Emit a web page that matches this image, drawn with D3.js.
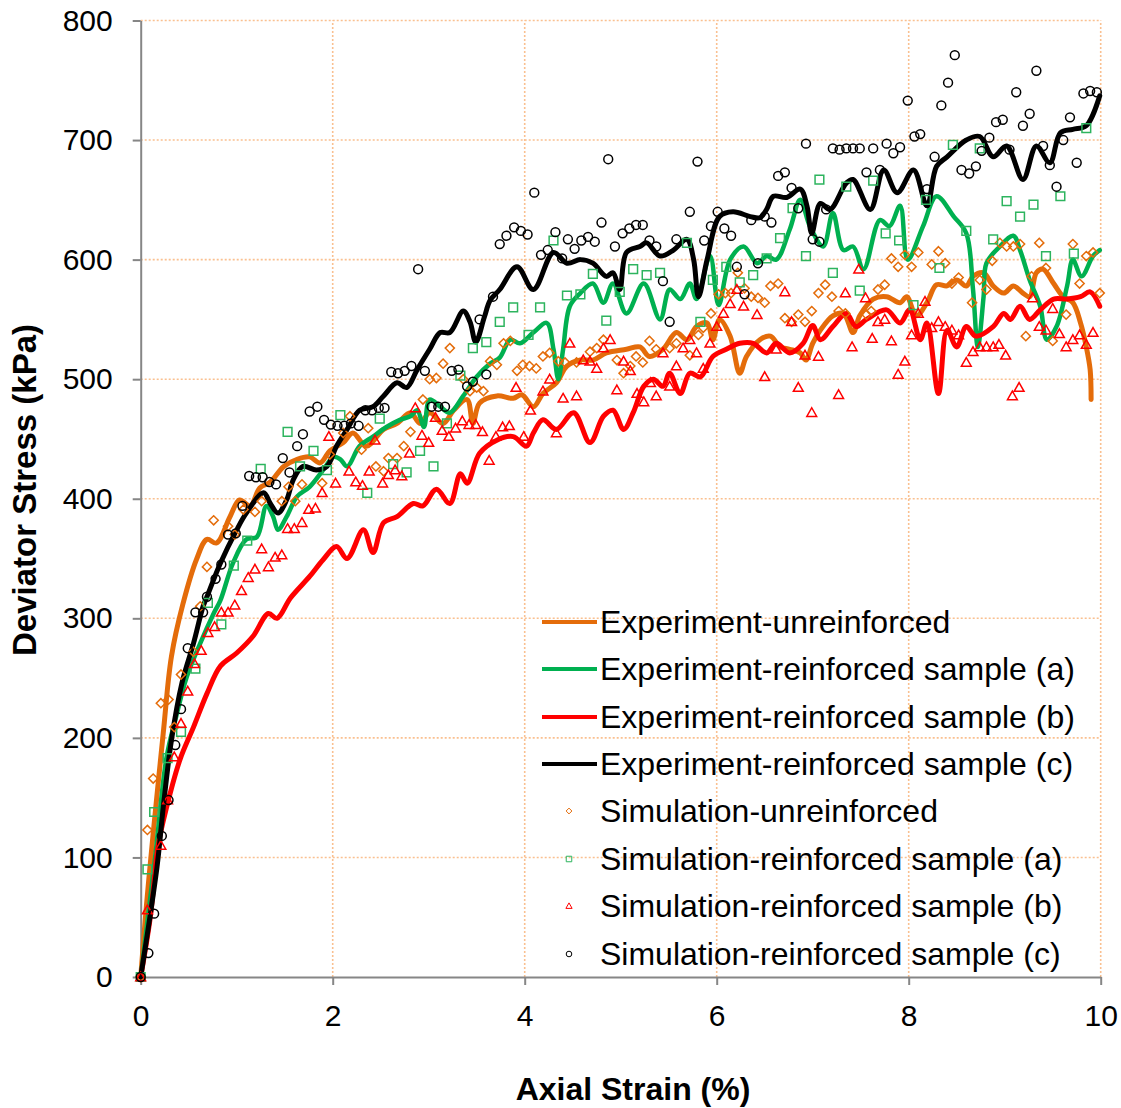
<!DOCTYPE html>
<html>
<head>
<meta charset="utf-8" />
<title>Deviator Stress vs Axial Strain</title>
<script src="https://d3js.org/d3.v7.min.js"></script>
<style>
    body { margin: 0px; background: #fff; }
    text { font-family: "Liberation Sans", Arial, sans-serif; }
    .tick text { font-size: 30px; fill: #000; }
    .axis-title { font-size: 32px; font-weight: bold; fill: #000; }
    .legend text { font-size: 32px; fill: #000; }
</style>
</head>
<body>
<script>
// experiment curves: [axial strain %, deviator stress kPa]
var expUnreinforced = [[0,0],[0.06,60],[0.13,120],[0.235,204],[0.32,268],[0.44,312],[0.58,349],[0.69,366],[0.79,363],[0.93,385],[1.03,399],[1.14,394],[1.24,409],[1.35,414],[1.49,427],[1.63,433],[1.76,435],[1.87,430],[1.97,440],[2.11,447],[2.21,455],[2.35,444],[2.53,458],[2.67,463],[2.81,472],[2.91,463],[3.01,472],[3.15,463],[3.26,474],[3.40,483],[3.46,463],[3.53,480],[3.71,486],[3.88,484],[3.97,487],[4.09,477],[4.19,488],[4.33,497],[4.44,511],[4.58,516],[4.71,516],[4.85,522],[5.06,525],[5.2,527],[5.3,519],[5.44,525],[5.58,539],[5.69,533],[5.79,544],[5.9,547],[5.96,533],[6.03,550],[6.14,536],[6.24,505],[6.31,519],[6.45,533],[6.56,536],[6.66,527],[6.76,525],[6.87,522],[6.93,516],[7.0,530],[7.08,541],[7.21,553],[7.32,555],[7.42,539],[7.49,553],[7.63,567],[7.77,569],[7.91,564],[7.98,569],[8.08,553],[8.19,564],[8.29,579],[8.40,578],[8.50,583],[8.60,578],[8.67,586],[8.78,589],[8.88,578],[8.99,572],[9.09,578],[9.19,572],[9.26,569],[9.33,589],[9.40,592],[9.51,580],[9.61,569],[9.71,564],[9.79,547],[9.85,527],[9.89,508],[9.90,483]];

var expSampleA = [[0,0],[0.15,100],[0.27,184],[0.37,218],[0.48,251],[0.62,279],[0.76,304],[0.83,315],[0.96,346],[1.10,366],[1.21,368],[1.31,394],[1.38,385],[1.43,374],[1.52,385],[1.63,402],[1.76,410],[1.90,424],[2.01,435],[2.08,433],[2.15,427],[2.28,444],[2.42,452],[2.56,460],[2.70,466],[2.81,469],[2.88,474],[2.95,460],[3.01,483],[3.12,477],[3.22,472],[3.36,486],[3.50,502],[3.64,513],[3.74,518],[3.85,533],[3.95,530],[4.09,539],[4.23,547],[4.30,525],[4.35,500],[4.40,525],[4.47,561],[4.58,572],[4.71,580],[4.82,564],[4.92,580],[5.06,555],[5.24,580],[5.41,550],[5.51,575],[5.62,567],[5.72,580],[5.79,567],[5.93,603],[6.02,562],[6.14,600],[6.28,611],[6.42,597],[6.52,603],[6.62,600],[6.76,625],[6.87,650],[6.97,628],[7.11,611],[7.21,639],[7.32,608],[7.42,611],[7.53,592],[7.70,633],[7.80,628],[7.91,645],[7.99,600],[8.15,628],[8.29,653],[8.47,636],[8.60,622],[8.67,575],[8.72,527],[8.78,569],[8.81,597],[8.95,611],[9.09,620],[9.16,608],[9.26,583],[9.37,561],[9.44,533],[9.54,544],[9.65,578],[9.71,600],[9.80,586],[9.92,603],[9.99,608]];

var expSampleB = [[0,0],[0.10,50],[0.18,109],[0.27,142],[0.41,182],[0.55,209],[0.69,237],[0.83,260],[1.0,271],[1.17,285],[1.33,304],[1.42,300],[1.56,317],[1.76,335],[1.90,349],[2.04,360],[2.15,350],[2.32,374],[2.42,355],[2.53,380],[2.67,385],[2.84,396],[2.94,394],[3.08,408],[3.22,396],[3.33,421],[3.40,413],[3.53,438],[3.71,449],[3.88,452],[4.02,444],[4.09,455],[4.19,466],[4.33,458],[4.51,472],[4.68,447],[4.82,469],[4.92,474],[5.03,458],[5.13,472],[5.24,494],[5.34,500],[5.44,494],[5.51,505],[5.62,488],[5.72,505],[5.83,502],[5.96,519],[6.10,525],[6.24,530],[6.38,530],[6.52,522],[6.62,530],[6.76,522],[6.90,530],[7.0,545],[7.08,533],[7.21,544],[7.35,555],[7.45,544],[7.56,550],[7.77,558],[7.91,547],[8.01,558],[8.12,533],[8.19,547],[8.31,488],[8.40,541],[8.50,527],[8.60,544],[8.70,536],[8.88,544],[8.99,555],[9.06,550],[9.16,561],[9.26,550],[9.37,558],[9.51,567],[9.65,567],[9.79,569],[9.89,573],[9.99,561]];

var expSampleC = [[0,0],[0.17,92],[0.235,142],[0.32,198],[0.43,246],[0.55,279],[0.65,310],[0.69,318],[0.83,346],[1.0,374],[1.10,388],[1.28,405],[1.35,396],[1.43,388],[1.52,399],[1.59,416],[1.69,427],[1.83,424],[1.94,427],[2.04,444],[2.15,458],[2.28,474],[2.42,477],[2.53,486],[2.67,497],[2.77,493],[2.88,508],[3.01,525],[3.12,539],[3.22,539],[3.36,557],[3.43,548],[3.49,531],[3.58,552],[3.64,566],[3.74,575],[3.92,594],[4.09,575],[4.30,606],[4.44,597],[4.58,600],[4.71,597],[4.85,586],[4.92,589],[4.99,575],[5.06,606],[5.20,611],[5.27,614],[5.41,603],[5.55,608],[5.69,617],[5.76,600],[5.81,569],[5.90,600],[6.03,636],[6.17,640],[6.35,636],[6.45,635],[6.52,642],[6.59,653],[6.73,652],[6.87,659],[6.94,645],[6.99,622],[7.08,647],[7.18,642],[7.35,664],[7.42,667],[7.60,642],[7.74,675],[7.88,656],[8.05,675],[8.19,645],[8.29,678],[8.40,686],[8.60,700],[8.74,703],[8.88,686],[9.02,695],[9.19,667],[9.33,695],[9.47,681],[9.58,706],[9.71,709],[9.85,712],[9.99,737]];

// simulation points
var simUnreinforced = [[0,0],[0.07,123],[0.13,166],[0.21,229],[0.29,232],[0.35,209],[0.42,253],[0.55,272],[0.62,310],[0.69,343],[0.76,382],[0.91,377],[0.98,370],[1.07,391],[1.19,389],[1.26,398],[1.47,398],[1.54,410],[1.61,398],[1.68,412],[1.89,413],[1.97,437],[2.11,455],[2.18,469],[2.30,441],[2.37,459],[2.45,427],[2.53,423],[2.58,434],[2.67,434],[2.74,444],[2.81,456],[2.94,483],[3.01,500],[3.08,501],[3.15,513],[3.22,526],[3.36,500],[3.43,490],[3.50,493],[3.57,490],[3.64,515],[3.71,512],[3.78,530],[3.85,532],[3.92,507],[3.98,512],[4.05,511],[4.12,509],[4.19,519],[4.26,522],[4.35,515],[4.42,514],[4.54,514],[4.68,523],[4.75,526],[4.82,533],[4.96,516],[5.03,505],[5.10,511],[5.16,519],[5.23,514],[5.30,532],[5.37,525],[5.51,526],[5.58,530],[5.72,520],[5.81,537],[5.86,543],[5.94,555],[6.02,571],[6.09,572],[6.15,572],[6.22,589],[6.29,576],[6.36,569],[6.43,568],[6.50,564],[6.56,578],[6.64,580],[6.71,551],[6.78,548],[6.85,554],[6.92,548],[6.99,557],[7.06,572],[7.13,579],[7.20,569],[7.27,557],[7.34,555],[7.56,554],[7.61,557],[7.68,575],[7.75,579],[7.82,601],[7.89,594],[7.96,604],[8.03,594],[8.10,606],[8.24,596],[8.31,607],[8.38,597],[8.45,580],[8.52,585],[8.66,564],[8.74,583],[8.81,575],[8.87,599],[8.95,614],[9.02,611],[9.09,611],[9.16,613],[9.22,536],[9.28,586],[9.36,614],[9.43,593],[9.50,532],[9.64,554],[9.71,613],[9.78,580],[9.85,603],[9.92,606],[9.99,572]];

var simSampleA = [[0,0],[0.07,90],[0.14,138],[0.28,183],[0.42,205],[0.57,258],[0.70,313],[0.84,295],[0.97,344],[1.11,365],[1.25,425],[1.53,456],[1.66,427],[1.80,440],[1.94,424],[2.08,470],[2.36,405],[2.49,467],[2.63,429],[2.77,422],[2.91,440],[3.05,427],[3.19,463],[3.33,503],[3.46,526],[3.60,531],[3.74,548],[3.88,560],[4.04,537],[4.16,560],[4.30,616],[4.44,570],[4.58,571],[4.71,588],[4.85,549],[4.99,573],[5.13,592],[5.27,587],[5.41,589],[5.69,614],[5.83,548],[5.96,583],[6.10,594],[6.24,581],[6.38,587],[6.52,601],[6.66,618],[6.79,643],[6.93,603],[7.07,667],[7.21,589],[7.35,661],[7.49,574],[7.63,666],[7.76,622],[7.90,616],[8.05,562],[8.18,650],[8.32,593],[8.46,696],[8.60,624],[8.74,693],[8.88,617],[9.02,649],[9.16,636],[9.30,646],[9.43,603],[9.58,653],[9.72,605],[9.85,710]];

var simSampleB = [[0,0],[0.07,56],[0.21,110],[0.28,148],[0.35,184],[0.42,212],[0.49,239],[0.56,262],[0.63,273],[0.70,288],[0.77,293],[0.84,305],[0.91,305],[0.98,311],[1.05,323],[1.12,334],[1.19,341],[1.26,358],[1.33,343],[1.40,351],[1.47,353],[1.53,375],[1.60,375],[1.68,380],[1.75,391],[1.82,392],[1.89,405],[1.96,452],[2.03,413],[2.17,423],[2.24,414],[2.31,411],[2.38,423],[2.44,449],[2.52,413],[2.58,420],[2.65,424],[2.72,419],[2.80,438],[2.86,476],[2.93,453],[3.00,447],[3.07,468],[3.14,457],[3.21,452],[3.28,459],[3.35,465],[3.42,462],[3.49,462],[3.56,456],[3.63,432],[3.70,452],[3.77,460],[3.84,461],[3.91,493],[3.99,452],[4.06,474],[4.19,490],[4.26,500],[4.33,455],[4.40,484],[4.47,530],[4.54,486],[4.61,516],[4.68,515],[4.75,509],[4.82,526],[4.89,533],[4.96,491],[5.03,515],[5.10,507],[5.17,488],[5.24,481],[5.31,497],[5.37,486],[5.44,522],[5.51,494],[5.58,511],[5.65,526],[5.72,533],[5.79,522],[5.86,509],[5.93,530],[6.00,544],[6.07,555],[6.14,563],[6.21,575],[6.28,561],[6.42,554],[6.50,502],[6.62,525],[6.71,573],[6.78,548],[6.85,493],[6.92,520],[6.99,472],[7.06,519],[7.27,487],[7.34,572],[7.41,527],[7.48,592],[7.55,568],[7.62,534],[7.68,548],[7.75,550],[7.82,532],[7.89,504],[7.96,515],[8.03,537],[8.10,555],[8.17,565],[8.24,543],[8.31,548],[8.38,544],[8.45,541],[8.52,537],[8.60,514],[8.67,523],[8.74,527],[8.81,527],[8.88,527],[8.94,529],[9.01,520],[9.08,486],[9.15,493],[9.29,568],[9.36,544],[9.43,541],[9.50,559],[9.57,538],[9.64,527],[9.71,533],[9.78,537],[9.85,529],[9.92,539]];

var simSampleC = [[0,0],[0.08,20],[0.14,53],[0.22,118],[0.29,148],[0.36,194],[0.42,224],[0.49,275],[0.57,305],[0.65,305],[0.69,318],[0.78,333],[0.84,345],[0.91,370],[0.99,371],[1.06,394],[1.13,419],[1.20,418],[1.27,418],[1.34,414],[1.41,412],[1.48,434],[1.55,422],[1.63,444],[1.69,454],[1.76,473],[1.84,477],[1.91,466],[1.98,462],[2.05,461],[2.12,461],[2.19,463],[2.27,461],[2.34,474],[2.41,474],[2.48,476],[2.54,476],[2.61,506],[2.68,505],[2.75,507],[2.82,511],[2.89,592],[2.96,507],[3.03,477],[3.10,477],[3.17,477],[3.24,507],[3.31,508],[3.40,494],[3.46,498],[3.53,550],[3.60,504],[3.67,569],[3.74,613],[3.81,620],[3.89,627],[3.96,624],[4.03,621],[4.10,656],[4.17,604],[4.24,608],[4.32,623],[4.39,601],[4.45,617],[4.52,609],[4.59,616],[4.66,619],[4.73,615],[4.80,631],[4.87,684],[4.94,611],[5.02,622],[5.09,626],[5.16,629],[5.23,629],[5.30,616],[5.37,611],[5.44,582],[5.51,548],[5.58,617],[5.72,640],[5.80,682],[5.87,616],[5.94,628],[6.01,640],[6.08,626],[6.15,620],[6.21,594],[6.29,571],[6.36,633],[6.43,597],[6.50,636],[6.57,631],[6.64,670],[6.71,673],[6.78,660],[6.85,643],[6.93,697],[7.00,617],[7.07,615],[7.14,642],[7.21,693],[7.28,692],[7.35,693],[7.42,693],[7.49,693],[7.56,673],[7.63,693],[7.70,675],[7.77,697],[7.84,689],[7.91,694],[7.99,733],[8.06,703],[8.12,705],[8.19,659],[8.27,686],[8.34,729],[8.41,748],[8.48,771],[8.55,675],[8.63,672],[8.70,678],[8.76,691],[8.84,702],[8.91,715],[8.98,717],[9.05,692],[9.12,740],[9.19,712],[9.26,722],[9.33,758],[9.40,695],[9.47,679],[9.54,661],[9.61,700],[9.68,719],[9.75,681],[9.82,739],[9.89,741],[9.96,740]];

var xTicks = [0, 2, 4, 6, 8, 10];
var yTicks = [0, 100, 200, 300, 400, 500, 600, 700, 800];
var lineNames = ["Experiment-unreinforced", "Experiment-reinforced sample (a)", "Experiment-reinforced sample (b)", "Experiment-reinforced sample (c)"];
var pointNames = ["Simulation-unreinforced", "Simulation-reinforced sample (a)", "Simulation-reinforced sample (b)", "Simulation-reinforced sample (c)"];

var width = 1121, height = 1108;

var svg = d3.select("body").append("svg")
    .attr("width", width)
    .attr("height", height);

svg.append("rect").attr("width", width).attr("height", height).attr("fill", "#fff");

var x = d3.scaleLinear().domain([0, 10]).range([140.7, 1100.7]);
var y = d3.scaleLinear().domain([0, 800]).range([977, 20.5]);

// dotted grid
var grid = svg.append("g");
grid.selectAll(".vgrid")
    .data(xTicks.filter(d => d > 0))
    .enter().append("line")
    .attr("x1", d => x(d)).attr("x2", d => x(d))
    .attr("y1", y(0)).attr("y2", y(800))
    .attr("stroke", "#FAC090").attr("stroke-width", 1.6)
    .attr("stroke-dasharray", "2,2");
grid.selectAll(".hgrid")
    .data(yTicks.filter(d => d > 0))
    .enter().append("line")
    .attr("x1", x(0)).attr("x2", x(10))
    .attr("y1", d => y(d)).attr("y2", d => y(d))
    .attr("stroke", "#FAC090").attr("stroke-width", 1.6)
    .attr("stroke-dasharray", "2,2");

// axes
var xAxis = svg.append("g")
    .attr("transform", "translate(0," + y(0) + ")")
    .call(d3.axisBottom(x).tickValues(xTicks).tickSize(8).tickPadding(20).tickSizeOuter(0));
var yAxis = svg.append("g")
    .attr("transform", "translate(" + x(0) + ",0)")
    .call(d3.axisLeft(y).tickValues(yTicks).tickSize(8).tickPadding(20).tickSizeOuter(0));
[xAxis, yAxis].forEach(function(a) {
    a.attr("font-family", null).attr("font-size", null);
    a.select(".domain").attr("stroke", "#868686").attr("stroke-width", 2);
    a.selectAll(".tick line").attr("stroke", "#868686").attr("stroke-width", 2);
});

// titles
svg.append("text").attr("class", "axis-title")
    .attr("x", 633).attr("y", 1100)
    .attr("text-anchor", "middle")
    .text("Axial Strain (%)");
svg.append("text").attr("class", "axis-title")
    .attr("transform", "translate(36,490) rotate(-90)")
    .attr("text-anchor", "middle")
    .style("font-size", "33px")
    .text("Deviator Stress (kPa)");

// experiment lines (smoothed like the spreadsheet chart)
var line = d3.line()
    .x(d => x(d[0]))
    .y(d => y(d[1]))
    .curve(d3.curveCatmullRom.alpha(0.5));

var lineSeries = [
    {data: expUnreinforced, color: "#E46C0A", w: 5},
    {data: expSampleA, color: "#00B050", w: 4.5},
    {data: expSampleB, color: "#FF0000", w: 5},
    {data: expSampleC, color: "#000000", w: 5}
];
svg.append("g").selectAll("path")
    .data(lineSeries)
    .enter().append("path")
    .attr("d", d => line(d.data))
    .attr("fill", "none")
    .attr("stroke", d => d.color)
    .attr("stroke-width", d => d.w)
    .attr("stroke-linejoin", "round")
    .attr("stroke-linecap", "round");

// marker shapes
var diamond = {draw: function(ctx, size) {
    var r = Math.sqrt(size / 2);
    ctx.moveTo(0, -r); ctx.lineTo(r, 0); ctx.lineTo(0, r); ctx.lineTo(-r, 0); ctx.closePath();
}};
var triangle = {draw: function(ctx, size) {
    var s = Math.sqrt(size);
    ctx.moveTo(0, -s * 0.55); ctx.lineTo(s * 0.55, s * 0.42); ctx.lineTo(-s * 0.55, s * 0.42); ctx.closePath();
}};

var pointSeries = [
    {data: simUnreinforced, color: "#E46C0A", type: diamond, size: 42},
    {data: simSampleA, color: "#2DB45E", type: d3.symbolSquare, size: 76},
    {data: simSampleB, color: "#FF0000", type: triangle, size: 80},
    {data: simSampleC, color: "#000000", type: d3.symbolCircle, size: 62}
];

pointSeries.forEach(function(s) {
    var sym = d3.symbol().type(s.type).size(s.size);
    svg.append("g").selectAll("path")
        .data(s.data)
        .enter().append("path")
        .attr("transform", d => "translate(" + x(d[0]) + "," + y(d[1]) + ")")
        .attr("d", sym)
        .attr("fill", "none")
        .attr("stroke", s.color)
        .attr("stroke-width", 1.5);
});

// legend
var legend = svg.append("g").attr("class", "legend");
var rowY = [622, 669, 717, 764, 811, 859, 906, 954];
lineNames.forEach(function(name, i) {
    legend.append("line")
        .attr("x1", 542).attr("x2", 597)
        .attr("y1", rowY[i]).attr("y2", rowY[i])
        .attr("stroke", lineSeries[i].color)
        .attr("stroke-width", 4.2);
    legend.append("text").attr("x", 600).attr("y", rowY[i] + 11).text(name);
});
pointNames.forEach(function(name, i) {
    var s = pointSeries[i];
    legend.append("path")
        .attr("transform", "translate(569," + rowY[i + 4] + ")")
        .attr("d", d3.symbol().type(s.type).size(s.size * 0.4))
        .attr("fill", "none")
        .attr("stroke", s.color)
        .attr("stroke-width", 1);
    legend.append("text").attr("x", 600).attr("y", rowY[i + 4] + 11).text(name);
});
</script>
</body>
</html>
